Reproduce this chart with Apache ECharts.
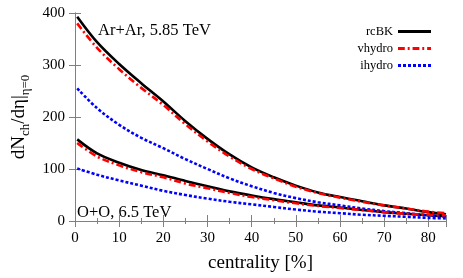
<!DOCTYPE html>
<html><head><meta charset="utf-8">
<script src="https://cdn.jsdelivr.net/npm/echarts@6/dist/echarts.min.js"></script>
<style>html,body{margin:0;padding:0;background:#fff}#c{width:463px;height:278px}</style>
</head><body><div id="c"></div>
<script>
var centrality = [0.5, 5, 10, 15, 20, 25, 30, 35, 40, 45, 50, 55, 60, 65, 70, 75, 80, 84];
var arRcBK   = [393, 344, 302, 265, 230, 192, 158, 128, 103, 84, 68, 55, 46, 38, 30, 24, 17, 13];
var arVhydro = [380, 333, 292, 256, 223, 186, 153, 124, 100, 82, 66, 54, 45, 37, 30, 24, 18, 15];
var arIhydro = [255, 217, 185, 160, 140, 119, 100, 82, 67, 54, 44, 36, 30, 24, 19, 15, 11, 9];
var ooRcBK   = [157, 130, 112, 98, 88, 77, 67, 57, 49, 42, 36, 30, 26, 21, 17, 14, 11, 9];
var ooVhydro = [150, 124, 107, 94, 84, 72, 63, 54, 46, 40, 34, 29, 25, 21, 17, 14, 12, 11];
var ooIhydro = [101, 89, 78, 68, 58, 50, 43, 37, 32, 27, 22, 18, 15, 12, 10, 8, 6, 5];
var seriesNames = ['rcBK', 'vhydro', 'ihydro'];
var xTicks = [0, 10, 20, 30, 40, 50, 60, 70, 80];
var yTicks = [0, 100, 200, 300, 400];

function pairs(ys){ return centrality.map(function(x,i){ return [x, ys[i]]; }); }
var FONT = '"Liberation Serif", "DejaVu Serif", serif';
var styles = {
  rcBK:   {color:'#000000', width:2.6, type:'solid',
           icon:'path://M0,0H34V3H0Z'},
  vhydro: {color:'#ff0000', width:2.6, type:[7,3,2,3],
           icon:'path://M0,0H7V3H0Z M10,0H12V3H10Z M15,0H22V3H15Z M25,0H27V3H25Z M30,0H34V3H30Z'},
  ihydro: {color:'#0000ff', width:2.6, type:[3,2],
           icon:'path://M0,0H3V3H0Z M5,0H8V3H5Z M10,0H13V3H10Z M15,0H18V3H15Z M20,0H23V3H20Z M25,0H28V3H25Z M30,0H33V3H30Z'}
};
function mk(name, ys){
  var s = styles[name];
  return {name:name, type:'line', data:pairs(ys), showSymbol:false, symbol:'none',
    smooth:0.35,
    lineStyle:{color:s.color, width:s.width, type:s.type}, itemStyle:{color:s.color}, z: name==='rcBK'?2:3};
}
var axisCol = '#808080';
var chart = echarts.init(document.getElementById('c'), null, {renderer:'canvas'});
chart.setOption({
  animation:false,
  grid:{left:75, right:17, top:13, bottom:51},
  legend:{
    data:seriesNames.map(function(n){ return {name:n, icon:styles[n].icon, itemStyle:{color:styles[n].color, borderWidth:0}}; }),
    orient:'vertical', right:27, top:20, align:'right', itemWidth:33, itemHeight:3, itemGap:4,
    textStyle:{fontFamily:FONT, fontSize:12.5, color:'#000', lineHeight:13}
  },
  xAxis:[{
    type:'value', min:0, max:84, interval:10,
    name:'centrality [%]', nameLocation:'middle', nameGap:33,
    nameTextStyle:{fontFamily:FONT, fontSize:19, color:'#000'},
    axisLine:{show:true, lineStyle:{color:axisCol}},
    axisTick:{show:true, inside:true, length:6, lineStyle:{color:axisCol}},
    minorTick:{show:true, splitNumber:2, length:3, lineStyle:{color:axisCol}},
    axisLabel:{fontFamily:FONT, fontSize:15, color:'#000', margin:10,
      formatter:function(v){ return xTicks.indexOf(v)>=0 ? String(v) : ''; }},
    splitLine:{show:false}
  },{
    type:'value', min:0, max:84, interval:10, position:'top',
    axisLine:{show:true, lineStyle:{color:axisCol}},
    axisTick:{show:true, inside:true, length:6, lineStyle:{color:axisCol}},
    minorTick:{show:true, splitNumber:2, length:3, lineStyle:{color:axisCol}},
    axisLabel:{show:false}, splitLine:{show:false}
  }],
  yAxis:[{
    type:'value', min:0, max:400, interval:100,
    name:'{t|dN}{s|ch}{t|/dη|}{s|η=0}', nameLocation:'middle', nameGap:43,
    nameTextStyle:{fontFamily:FONT, fontSize:18, color:'#000',
      rich:{t:{fontFamily:FONT, fontSize:19, color:'#000', verticalAlign:'top', lineHeight:22},
            s:{fontFamily:FONT, fontSize:13, color:'#000', verticalAlign:'bottom', lineHeight:22, padding:[8,0,0,0]}}},
    axisLine:{show:true, lineStyle:{color:axisCol}},
    axisTick:{show:true, inside:true, length:6, lineStyle:{color:axisCol}},
    axisLabel:{fontFamily:FONT, fontSize:15, color:'#000', margin:10,
      formatter:function(v){ return yTicks.indexOf(v)>=0 ? String(v) : ''; }},
    splitLine:{show:false}
  },{
    type:'value', min:0, max:400, interval:100, position:'right',
    axisLine:{show:true, lineStyle:{color:axisCol}},
    axisTick:{show:true, inside:true, length:6, lineStyle:{color:axisCol}},
    axisLabel:{show:false}, splitLine:{show:false}
  }],
  graphic:[
    {type:'text', left:98, top:22, style:{text:'Ar+Ar, 5.85 TeV', font:'16.5px '+FONT, fill:'#000'}},
    {type:'text', left:77, top:204, style:{text:'O+O, 6.5 TeV', font:'16.5px '+FONT, fill:'#000'}}
  ],
  series:[
    mk('rcBK', arRcBK), mk('vhydro', arVhydro), mk('ihydro', arIhydro),
    mk('rcBK', ooRcBK), mk('vhydro', ooVhydro), mk('ihydro', ooIhydro)
  ]
});
</script></body></html>
